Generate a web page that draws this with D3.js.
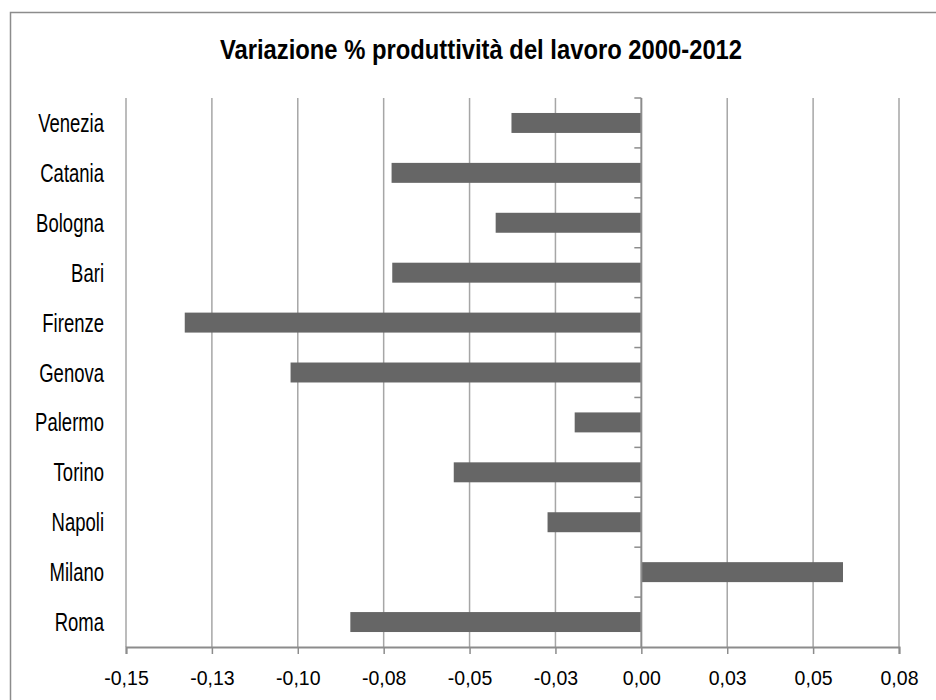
<!DOCTYPE html>
<html>
<head>
<meta charset="utf-8">
<script src="https://cdn.jsdelivr.net/npm/d3@7"></script>
<style>
  body { margin: 0; background: #fff; }
  svg text { font-family: "Liberation Sans", Arial, sans-serif; fill: #000; }
</style>
</head>
<body>
<div id="chart"></div>
<script>
// data (top to bottom)
const cities = ["Venezia", "Catania", "Bologna", "Bari", "Firenze", "Genova",
                "Palermo", "Torino", "Napoli", "Milano", "Roma"];
const change = [-0.0378, -0.0727, -0.0424, -0.0725, -0.1329, -0.1021,
                -0.0194, -0.0546, -0.0273, 0.0587, -0.0847];
const xTicks = [-0.15, -0.125, -0.1, -0.075, -0.05, -0.025, 0, 0.025, 0.05, 0.075];
const title = "Variazione % produttività del lavoro 2000-2012";

const W = 936, H = 700;
const margin = {top: 98, right: 37, bottom: 53, left: 126};

// excel style: two decimals, comma, halves rounded away from zero
function fmt(d) {
    let v = Math.round(Math.abs(d) * 100 + 1e-6) / 100;
    return (d < 0 ? "-" : "") + v.toFixed(2).replace(".", ",");
}

let svg = d3.select("#chart").append("svg")
    .attr("width", W)
    .attr("height", H);

// outer frame
svg.append("rect")
    .attr("x", 10.5).attr("y", 12.5)
    .attr("width", W).attr("height", H)
    .attr("fill", "none")
    .attr("stroke", "#8c8c8c")
    .attr("stroke-width", 1.5);

svg.append("text")
    .attr("transform", "translate(481,59) scale(0.85,1)")
    .attr("text-anchor", "middle")
    .style("font-size", "28px")
    .style("font-weight", "bold")
    .text(title);

let g = svg.append("g")
    .attr("transform", `translate(${margin.left},${margin.top})`);

let width = W - margin.left - margin.right;
let height = H - margin.top - margin.bottom;

let x = d3.scaleLinear()
    .domain([-0.15, 0.075])
    .range([0, width]);

let y = d3.scaleBand()
    .domain(cities)
    .range([0, height])
    .paddingInner(0.6)
    .paddingOuter(0.3);

// grid lines
g.selectAll(".grid")
    .data(xTicks.filter(d => d !== 0))
    .enter()
    .append("line")
    .attr("class", "grid")
    .attr("x1", d => x(d)).attr("x2", d => x(d))
    .attr("y1", 0).attr("y2", height)
    .attr("stroke", "#a6a6a6")
    .attr("stroke-width", 1.5);

// bars
let rows = cities.map((c, i) => ({city: c, value: change[i]}));
g.selectAll(".bar")
    .data(rows)
    .enter()
    .append("rect")
    .attr("class", "bar")
    .attr("x", d => x(Math.min(0, d.value)))
    .attr("width", d => Math.abs(x(d.value) - x(0)))
    .attr("y", d => y(d.city))
    .attr("height", y.bandwidth())
    .attr("fill", "#666666");

// x axis
let xAxis = g.append("g")
    .attr("transform", `translate(0,${height})`)
    .call(d3.axisBottom(x)
        .tickValues(xTicks)
        .tickSize(7)
        .tickFormat(fmt));
xAxis.select(".domain").attr("stroke", "#8c8c8c").attr("stroke-width", 2);
xAxis.selectAll(".tick line").attr("stroke", "#8c8c8c").attr("stroke-width", 1.5);
xAxis.selectAll(".tick text")
    .style("font-size", "21px")
    .attr("y", 23)
    .attr("dy", "0.71em")
    .attr("transform", "scale(0.93,1)");

// zero axis with category ticks
let step = height / cities.length;
let zero = g.append("g").attr("transform", `translate(${x(0)},0)`);
zero.append("line")
    .attr("y1", 0).attr("y2", height)
    .attr("stroke", "#8c8c8c")
    .attr("stroke-width", 2);
zero.selectAll(".ytick")
    .data(d3.range(cities.length))
    .enter()
    .append("line")
    .attr("x1", -7).attr("x2", 0)
    .attr("y1", d => d * step).attr("y2", d => d * step)
    .attr("stroke", "#8c8c8c")
    .attr("stroke-width", 1.5);

// category labels
g.selectAll(".label")
    .data(cities)
    .enter()
    .append("text")
    .attr("transform", d => `translate(-22,${y(d) + y.bandwidth() / 2}) scale(0.74,1)`)
    .attr("dy", "0.36em")
    .attr("text-anchor", "end")
    .style("font-size", "25px")
    .text(d => d);
</script>
</body>
</html>
